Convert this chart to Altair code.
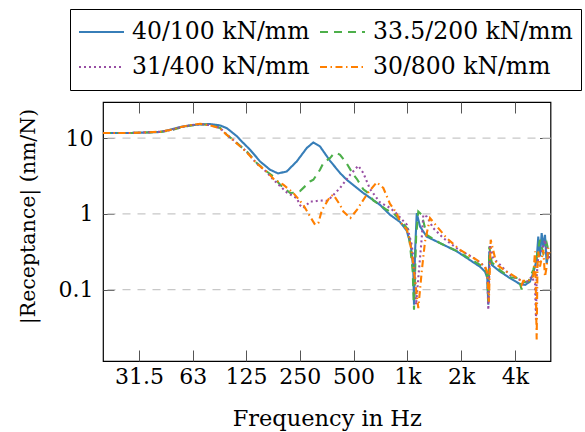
import altair as alt
import pandas as pd

series_names = ["40/100 kN/mm", "33.5/200 kN/mm", "31/400 kN/mm", "30/800 kN/mm"]
series_colors = ["#377eb8", "#4daf4a", "#984ea3", "#ff7f00"]
series_dashes = [[1, 0], [8, 6], [2, 3], [7, 3.5, 1.5, 3.5]]

freq_40_100 = [19.8, 28.1, 41.3, 47.0, 53.5, 60.8, 69.2, 78.7, 89.6, 97.6,
               101.8, 111.5, 115.8, 131.8, 149.9, 170.6, 189, 211.3, 240.4, 273.6,
               297.9, 324.5, 369.5, 420.2, 458.3, 567.2, 703.5, 800, 910, 992,
               1045, 1080, 1090, 1104, 1129, 1178, 1284, 1524, 1890, 2552,
               2721, 2803, 2840, 2876, 2967, 3302, 3755, 4272, 4556, 4859,
               5070, 5297, 5407, 5527, 5650, 5768, 5895, 6026, 6151, 6300]
rec_40_100 = [11.65, 11.65, 12.0, 12.87, 13.98, 14.67, 15.13, 15.31, 14.67, 13.5,
              12.5, 10.5, 9.5, 7.0, 4.91, 3.81, 3.41, 3.62, 4.91, 7.38,
              8.75, 7.74, 5.0, 3.45, 2.81, 1.88, 1.31, 0.97, 0.78, 0.6,
              0.39, 0.19, 0.063, 0.3, 1.02, 0.68, 0.5, 0.41, 0.32, 0.2,
              0.173, 0.143, 0.063, 0.318, 0.212, 0.173, 0.1415, 0.118, 0.115, 0.1275,
              0.165, 0.247, 0.5, 0.273, 0.556, 0.37, 0.528, 0.22, 0.303, 0.3]

freq_33_200 = [19.8, 28.1, 41.3, 47.0, 53.5, 60.8, 69.2, 78.7, 89.6, 97.6,
               105.8, 126.2, 143.7, 163.4, 178, 193.9, 220.7, 235, 251, 285.5,
               297.9, 324.5, 338.7, 369.5, 385.7, 402.9, 420.2, 458.3, 498.6, 521.1,
               567.2, 592.4, 645.2, 703.5, 767, 835, 910, 1013, 1035, 1072,
               1090, 1120, 1152, 1204, 1284, 1524, 1890, 2552, 2721, 2803,
               2840, 2876, 2967, 3302, 3755, 4179, 4366, 4457, 4754, 5070,
               5297, 5527, 5768, 6026, 6151, 6300]
rec_33_200 = [11.65, 11.65, 12.0, 12.6, 13.7, 14.6, 15.2, 14.9, 13.6, 11.06,
              9.5, 6.65, 4.67, 3.62, 3.11, 2.42, 1.88, 1.9, 2.0, 2.67,
              2.81, 3.81, 4.67, 5.44, 6.15, 6.34, 6.0, 4.6, 3.3, 2.9,
              2.1, 1.95, 1.5, 1.3, 1.13, 1.02, 0.833, 0.615, 0.39, 0.173,
              0.054, 0.5, 1.07, 0.97, 0.528, 0.41, 0.324, 0.212, 0.19, 0.15,
              0.07, 0.37, 0.23, 0.18, 0.145, 0.1415, 0.1, 0.125, 0.1275, 0.182,
              0.273, 0.453, 0.303, 0.41, 0.334, 0.33]

freq_31_400 = [19.8, 28.1, 41.3, 47.0, 53.5, 60.8, 69.2, 78.7, 89.6, 97.6,
               105.8, 126.2, 143.7, 163.4, 178, 211.3, 240.4, 251, 261.8, 285.5,
               297.9, 324.5, 353.8, 369.5, 420.2, 478, 531.9, 567.2, 618.5, 703.5,
               800, 872, 992, 1058, 1104, 1119, 1152, 1204, 1229, 1284,
               1398, 1590, 1890, 2445, 2721, 2803, 2840, 2903, 3029, 3302,
               3755, 4272, 4457, 4754, 4967, 5183, 5250, 5297, 5407, 5650,
               5895, 6151, 6300]
rec_31_400 = [11.65, 11.65, 12.1, 12.7, 13.8, 14.7, 15.3, 14.8, 13.56, 11.06,
              9.5, 6.6, 4.6, 3.55, 2.81, 1.92, 1.61, 1.3, 1.19, 1.45,
              1.45, 1.5, 1.48, 1.6, 2.19, 3.27, 4.31, 3.45, 2.12, 1.41,
              1.2, 1.0, 0.72, 0.389, 0.173, 0.063, 0.143, 0.478, 0.97, 0.921,
              0.647, 0.478, 0.352, 0.247, 0.2, 0.16, 0.054, 0.389, 0.26, 0.212,
              0.156, 0.134, 0.12, 0.13, 0.148, 0.12, 0.04, 0.15, 0.273, 0.318,
              0.453, 0.247, 0.3]

freq_30_800 = [19.8, 28.1, 41.3, 47.0, 53.5, 60.8, 69.2, 78.7, 89.6, 97.6,
               105.8, 126.2, 143.7, 163.4, 178, 202.2, 230.2, 261.8, 285.5, 304.5,
               317.7, 331.7, 369.5, 385.7, 420.2, 438.6, 480, 531.9, 543.8, 604.9,
               674, 733.9, 800, 872, 910, 992, 1013, 1058, 1129, 1152,
               1204, 1256, 1340, 1491, 1661, 1972, 2445, 2721, 2803, 2860,
               2929, 3164, 3599, 4272, 4366, 4457, 4754, 5070, 5183, 5240,
               5297, 5350, 5407, 5527, 5768, 5895, 6026, 6151, 6300]
rec_30_800 = [11.65, 11.65, 12.1, 12.8, 13.9, 14.8, 15.4, 14.7, 13.4, 11.0,
              9.4, 6.5, 4.6, 3.6, 2.9, 2.42, 1.88, 1.31, 0.92, 0.72,
              0.754, 1.1, 1.69, 1.78, 1.31, 1.07, 0.88, 1.19, 1.31, 1.92,
              2.6, 2.19, 1.35, 1.02, 0.79, 0.62, 0.53, 0.318, 0.085, 0.057,
              0.173, 0.431, 0.877, 0.647, 0.478, 0.334, 0.247, 0.2, 0.17, 0.069,
              0.453, 0.212, 0.173, 0.134, 0.1153, 0.13, 0.13, 0.15, 0.32, 0.10,
              0.022, 0.2, 0.318, 0.201, 0.334, 0.148, 0.2, 0.352, 0.3]

x_tick_values = [31.5, 63, 125, 250, 500, 1000, 2000, 4000]
y_tick_values = [0.1, 1, 10]
grid_values = [0.1, 1, 10]

rows = []
for name, fs, rs in zip(series_names,
                        [freq_40_100, freq_33_200, freq_31_400, freq_30_800],
                        [rec_40_100, rec_33_200, rec_31_400, rec_30_800]):
    for f, r in zip(fs, rs):
        rows.append({"series": name, "freq": f, "rec": r})
df = pd.DataFrame(rows)
grid_df = pd.DataFrame({"g": grid_values})

FONT = "DejaVu Serif"
x_scale = alt.Scale(type="log", domain=[19.8, 6330], nice=False)
y_scale = alt.Scale(type="log", domain=[0.0114, 29.9], nice=False)

legend = alt.Legend(
    title=None, orient="none", legendX=-33, legendY=-93, columns=2,
    direction="horizontal",
    columnPadding=9, rowPadding=5, padding=8, clipHeight=30,
    strokeColor="black", fillColor="white",
    symbolType="stroke", symbolSize=2025, symbolStrokeWidth=2,
    labelFont=FONT, labelFontSize=23.5, labelColor="black",
    labelOffset=7, labelLimit=400,
)

bottom_axis = alt.Axis(
    orient="bottom", values=x_tick_values, offset=-11, tickSize=11,
    tickColor="#555555", tickWidth=1, domain=False, grid=False,
    labelExpr="datum.value >= 1000 ? (datum.value / 1000) + 'k' : datum.value + ''",
    labelFont=FONT, labelFontSize=22, labelColor="black", labelPadding=5,
    labelOverlap=False, labelFlush=False,
    title="Frequency in Hz", titleFont=FONT, titleFontSize=22.5,
    titleFontWeight="normal", titleColor="black",
    titleY=75, titleBaseline="alphabetic",
)
left_axis = alt.Axis(
    orient="left", values=y_tick_values, offset=-11, tickSize=11,
    tickColor="#555555", tickWidth=1, domain=False, grid=False,
    labelExpr="datum.value + ''",
    labelFont=FONT, labelFontSize=22, labelColor="black", labelPadding=10,
    labelOverlap=False, labelFlush=False,
    title="|Receptance| (nm/N)", titleFont=FONT, titleFontSize=20.5,
    titleFontWeight="normal", titleColor="black",
    titleX=-86, titleY=114, titleAlign="center", titleBaseline="middle",
)
top_axis = alt.Axis(
    orient="top", values=x_tick_values, offset=-11, tickSize=11,
    tickColor="#555555", tickWidth=1, domain=False, grid=False,
    labels=False, title=None,
)
right_axis = alt.Axis(
    orient="right", values=y_tick_values, offset=-11, tickSize=11,
    tickColor="#555555", tickWidth=1, domain=False, grid=False,
    labels=False, title=None,
)

grid = alt.Chart(grid_df).mark_rule(
    color="#c8c8c8", strokeWidth=1.3, strokeDash=[8, 7]
).encode(y=alt.Y("g:Q", scale=y_scale, axis=None))

lines = alt.Chart(df).mark_line(strokeWidth=2.1, clip=True).encode(
    x=alt.X("freq:Q", scale=x_scale, axis=bottom_axis),
    y=alt.Y("rec:Q", scale=y_scale, axis=left_axis),
    color=alt.Color("series:N",
                    scale=alt.Scale(domain=series_names, range=series_colors),
                    legend=legend),
    strokeDash=alt.StrokeDash("series:N",
                              scale=alt.Scale(domain=series_names, range=series_dashes),
                              legend=legend),
)

mirror = alt.Chart(df).mark_point(opacity=0).encode(
    x=alt.X("freq:Q", scale=x_scale, axis=top_axis),
    y=alt.Y("rec:Q", scale=y_scale, axis=right_axis),
)

chart = alt.layer(grid, lines, mirror).resolve_axis(
    x="independent", y="independent"
).properties(
    width=447.5, height=259,
    autosize=alt.AutoSizeParams(type="none"),
    padding={"left": 103, "top": 102, "right": 34.5, "bottom": 71},
).configure_view(stroke="black", strokeWidth=1.2)

chart.save("out.html", embed_options={"renderer": "svg", "actions": False})
